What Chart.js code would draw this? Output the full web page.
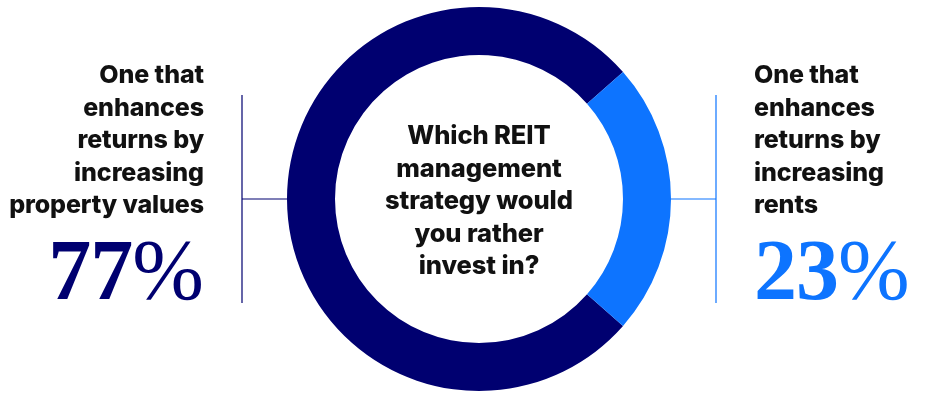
<!DOCTYPE html>
<html>
<head>
<meta charset="utf-8">
<script src="https://cdn.jsdelivr.net/npm/chart.js@4/dist/chart.umd.min.js"></script>
<style>
  html, body { margin: 0; padding: 0; background: #fff; }
  #wrap { position: relative; width: 938px; height: 393px; overflow: hidden; }
  #chart { position: absolute; left: 0; top: 0; }
  .label {
    position: absolute;
    font-family: Inter, "Noto Sans", sans-serif;
    font-weight: 800;
    font-size: 25px;
    line-height: 32.5px;
    color: #111;
    letter-spacing: -0.1px;
  }
  .pct {
    position: absolute;
    font-family: "Liberation Serif", serif;
    font-size: 86px;
    line-height: 86px;
    white-space: nowrap;
  }
  .pct b { font-weight: 700; letter-spacing: -1px; }
  .pct span { font-weight: 400; }
</style>
</head>
<body>
<div id="wrap">
  <canvas id="chart" width="938" height="393"></canvas>
  <div id="leftLabel" class="label" style="right:734px; top:58px; text-align:right;"></div>
  <div id="leftPct" class="pct" style="right:734px; top:227px; text-align:right;"></div>
  <div id="rightLabel" class="label" style="left:754px; top:58px; text-align:left;"></div>
  <div id="rightPct" class="pct" style="left:754px; top:227px; text-align:left;"></div>
  <div id="question" class="label" style="left:364px; width:230px; top:119px; text-align:center; font-size:25.5px;"></div>
</div>
<script>
const categories = [
    ['One that', 'enhances', 'returns by', 'increasing', 'property values'],
    ['One that', 'enhances', 'returns by', 'increasing', 'rents']
];
const shares = [77, 23];
const sliceColors = ['#000070', '#0D74FF'];
const questionLines = ['Which REIT', 'management', 'strategy would', 'you rather', 'invest in?'];

function fillLabel(id, lines) {
    document.getElementById(id).innerHTML = lines.join('<br>');
}

function fillPct(id, value, color) {
    let el = document.getElementById(id);
    el.style.color = color;
    el.innerHTML = '<b>' + value + '</b><span>%</span>';
}

fillLabel('leftLabel', categories[0]);
fillLabel('rightLabel', categories[1]);
fillLabel('question', questionLines);
fillPct('leftPct', shares[0], sliceColors[0]);
fillPct('rightPct', shares[1], sliceColors[1]);

// connector lines: vertical rule beside each label block, joined to the ring edge
const connectors = {
    id: 'connectors',
    afterDraw(chart) {
        let arc = chart.getDatasetMeta(0).data[0];
        if (!arc) {
            return;
        }
        let ctx = chart.ctx;
        let cx = arc.x, cy = arc.y, r = arc.outerRadius;
        let sides = [
            { x: 242, edge: cx - r, color: sliceColors[0] },
            { x: 716, edge: cx + r, color: sliceColors[1] }
        ];
        ctx.save();
        ctx.lineWidth = 1.2;
        sides.forEach(function (s) {
            ctx.strokeStyle = s.color;
            ctx.beginPath();
            ctx.moveTo(s.x, 95);
            ctx.lineTo(s.x, 303);
            ctx.moveTo(s.x, cy);
            ctx.lineTo(s.edge, cy);
            ctx.stroke();
        });
        ctx.restore();
    }
};

// the smaller share sits centred on the right-hand side of the ring
let rotation = 90 + shares[1] * 3.6 / 2;

new Chart(document.getElementById('chart').getContext('2d'), {
    type: 'doughnut',
    data: {
        labels: categories.map(function (c) { return c.join(' '); }),
        datasets: [
            {
                data: shares,
                backgroundColor: sliceColors,
                borderWidth: 0
            }
        ]
    },
    options: {
        responsive: false,
        animation: false,
        rotation: rotation,
        cutout: '75%',
        layout: {
            padding: { left: 287, right: 267, top: 7, bottom: 2 }
        },
        plugins: {
            legend: { display: false },
            tooltip: { enabled: false }
        }
    },
    plugins: [connectors]
});
</script>
</body>
</html>
